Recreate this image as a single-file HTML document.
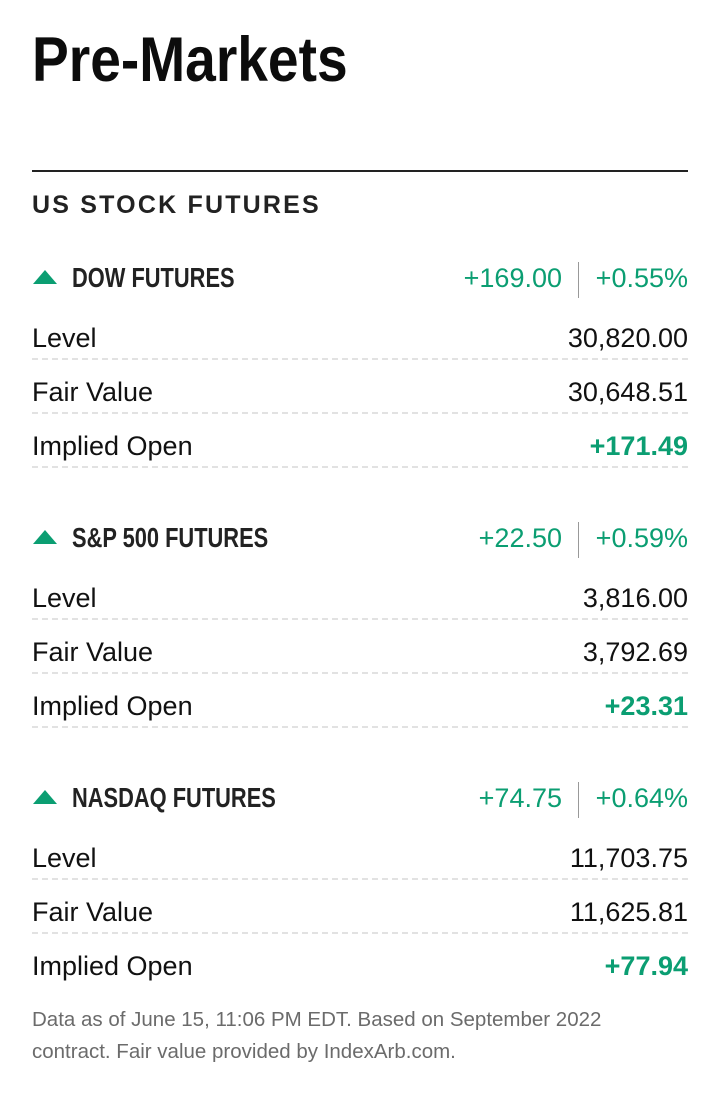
<!DOCTYPE html>
<html><head><style>
body{margin:0;width:720px;height:1113px;background:#fff;font-family:"Liberation Sans",sans-serif;color:#111;position:relative;overflow:hidden}
.a{position:absolute;white-space:nowrap}
.title{left:32px;top:24px;font-weight:bold;font-size:63px;color:#0c0c0c;transform:scaleX(0.875);transform-origin:left top}
.rule{left:32px;top:170px;width:656px;height:2px;background:#222}
.sub{left:32px;top:191px;font-weight:bold;font-size:25px;letter-spacing:2.2px;color:#222}
.hd{font-weight:bold;font-size:28px;color:#222;left:72px;transform:scaleX(0.78);transform-origin:left top}
.tri{left:33px;width:0;height:0;border-left:12px solid transparent;border-right:12px solid transparent;border-bottom:14px solid #0b9e72}
.g{color:#0b9e72}
.r{right:32px}
.v{font-size:27px}
.row{left:32px;font-size:27px}
.dash{left:32px;width:656px;border-top:2px dashed #e2e2e2}
.vbar{width:1px;height:36px;background:#999;left:578px}
.foot{left:32px;font-size:20.5px;color:#6b6b6b;line-height:32px;top:1004px}
</style></head><body>
<div class="a title">Pre-Markets</div>
<div class="a rule"></div>
<div class="a sub">US STOCK FUTURES</div>

<div class="a tri" style="top:270px"></div>
<div class="a hd" style="top:262px">DOW FUTURES</div>
<div class="a g v" style="right:158px;top:263px">+169.00</div>
<div class="a vbar" style="top:262px"></div>
<div class="a g r v" style="top:263px">+0.55%</div>
<div class="a row" style="top:323px">Level</div><div class="a r v" style="top:323px">30,820.00</div>
<div class="a dash" style="top:358px"></div>
<div class="a row" style="top:377px">Fair Value</div><div class="a r v" style="top:377px">30,648.51</div>
<div class="a dash" style="top:412px"></div>
<div class="a row" style="top:431px">Implied Open</div><div class="a r g v" style="top:431px;font-weight:bold">+171.49</div>
<div class="a dash" style="top:466px"></div>

<div class="a tri" style="top:530px"></div>
<div class="a hd" style="top:522px">S&amp;P 500 FUTURES</div>
<div class="a g v" style="right:158px;top:523px">+22.50</div>
<div class="a vbar" style="top:522px"></div>
<div class="a g r v" style="top:523px">+0.59%</div>
<div class="a row" style="top:583px">Level</div><div class="a r v" style="top:583px">3,816.00</div>
<div class="a dash" style="top:618px"></div>
<div class="a row" style="top:637px">Fair Value</div><div class="a r v" style="top:637px">3,792.69</div>
<div class="a dash" style="top:672px"></div>
<div class="a row" style="top:691px">Implied Open</div><div class="a r g v" style="top:691px;font-weight:bold">+23.31</div>
<div class="a dash" style="top:726px"></div>

<div class="a tri" style="top:790px"></div>
<div class="a hd" style="top:782px">NASDAQ FUTURES</div>
<div class="a g v" style="right:158px;top:783px">+74.75</div>
<div class="a vbar" style="top:782px"></div>
<div class="a g r v" style="top:783px">+0.64%</div>
<div class="a row" style="top:843px">Level</div><div class="a r v" style="top:843px">11,703.75</div>
<div class="a dash" style="top:878px"></div>
<div class="a row" style="top:897px">Fair Value</div><div class="a r v" style="top:897px">11,625.81</div>
<div class="a dash" style="top:932px"></div>
<div class="a row" style="top:951px">Implied Open</div><div class="a r g v" style="top:951px;font-weight:bold">+77.94</div>

<div class="a foot">Data as of June 15, 11:06 PM EDT. Based on September 2022<br>contract. Fair value provided by IndexArb.com.</div>
</body></html>
